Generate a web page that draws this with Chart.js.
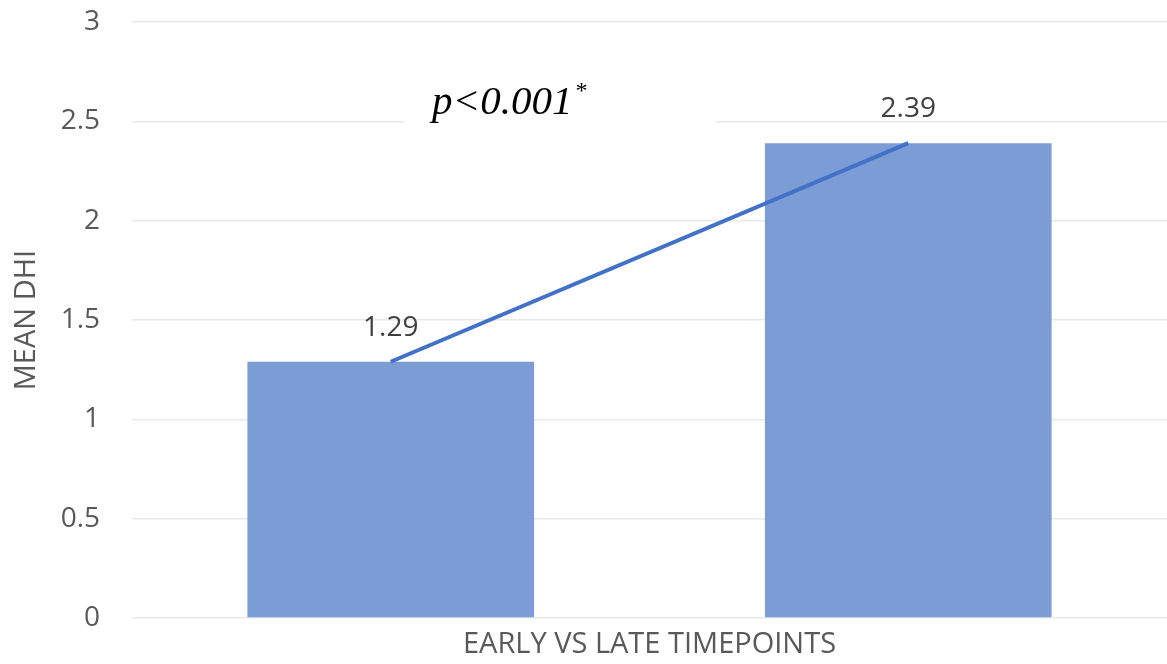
<!DOCTYPE html>
<html lang="en">
<head>
  <meta charset="UTF-8">
  <title>Mean DHI</title>
  <script src="https://cdn.jsdelivr.net/npm/chart.js"></script>
  <style>
    body { margin: 0; background: #fff; }
    #wrap { width: 1167px; height: 664px; }
  </style>
</head>
<body>
  <div id="wrap"><canvas id="dhiChart"></canvas></div>
  <script>
    // data
    const categories = ["Early", "Late"];
    const meanDhi = [1.29, 2.39];
    const yTicks = [0, 0.5, 1, 1.5, 2, 2.5, 3];
    const pLabel = "p<0.001";
    const pMark = "*";

    const fontFace = "'Open Sans', sans-serif";

    // value labels above the line points
    const valueLabels = {
      id: "valueLabels",
      afterDatasetsDraw(chart) {
        const ctx = chart.ctx;
        const meta = chart.getDatasetMeta(1);
        ctx.save();
        ctx.font = "28px " + fontFace;
        ctx.fillStyle = "#404040";
        ctx.textAlign = "center";
        ctx.textBaseline = "middle";
        meta.data.forEach((pt, i) => {
          ctx.fillText(meanDhi[i].toFixed(2), pt.x, pt.y - 34);
        });
        ctx.restore();
      }
    };

    // p-value text box (white background hides the grid line)
    const pValueBox = {
      id: "pValueBox",
      beforeDatasetsDraw(chart) {
        const ctx = chart.ctx;
        const area = chart.chartArea;
        const x0 = area.left + 273;
        ctx.save();
        ctx.fillStyle = "#fff";
        ctx.fillRect(x0, 70, 310, 60);
        ctx.fillStyle = "#000";
        ctx.textBaseline = "alphabetic";
        ctx.font = "italic 41px 'Liberation Serif', serif";
        ctx.fillText(pLabel, x0 + 27, 114);
        const w = ctx.measureText(pLabel).width;
        ctx.font = "24px 'Liberation Serif', serif";
        ctx.fillText(pMark, x0 + 30 + w, 98);
        ctx.restore();
      }
    };

    new Chart(document.getElementById("dhiChart"), {
      type: "bar",
      data: {
        labels: categories,
        datasets: [
          {
            type: "bar",
            data: meanDhi,
            backgroundColor: "#7C9CD5",
            borderWidth: 0,
            barPercentage: 0.554,
            categoryPercentage: 1,
            order: 2
          },
          {
            type: "line",
            data: meanDhi,
            borderColor: "#4271C8",
            borderWidth: 4,
            pointRadius: 0,
            fill: false,
            order: 1
          }
        ]
      },
      options: {
        responsive: true,
        maintainAspectRatio: false,
        animation: false,
        layout: { padding: { top: 22, right: 0, left: 0, bottom: 0 } },
        plugins: {
          legend: { display: false },
          tooltip: { enabled: false }
        },
        scales: {
          x: {
            grid: { display: false },
            border: { display: false },
            ticks: { display: false },
            title: {
              display: true,
              text: "EARLY VS LATE TIMEPOINTS",
              color: "#595959",
              font: { family: fontFace, size: 29 },
              padding: { top: 0, bottom: 1.5 }
            },
            afterFit(s) { s.height = 46; }
          },
          y: {
            min: 0,
            max: 3,
            afterBuildTicks(s) { s.ticks = yTicks.map(v => ({ value: v })); },
            grid: {
              color: "#E9E9E9",
              lineWidth: 1.5,
              drawTicks: true,
              tickLength: 32,
              tickColor: "rgba(0,0,0,0)"
            },
            border: { display: false },
            ticks: {
              color: "#595959",
              padding: 0,
              font: { family: fontFace, size: 28 },
              callback: (v) => String(v)
            },
            title: {
              display: true,
              text: "MEAN DHI",
              color: "#595959",
              font: { family: fontFace, size: 29 },
              padding: { top: 9, bottom: 0 }
            },
            afterFit(s) { s.width = 132; }
          }
        }
      },
      plugins: [valueLabels, pValueBox]
    });
  </script>
</body>
</html>
